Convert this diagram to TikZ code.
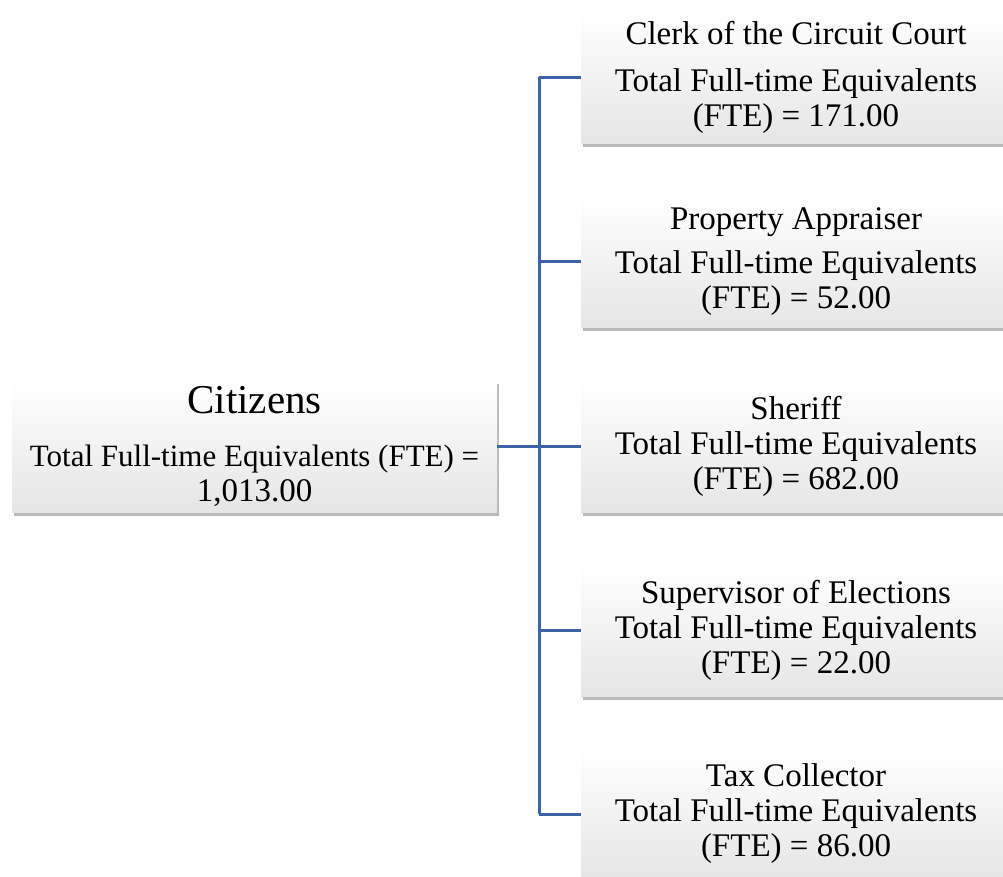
\documentclass[tikz,border=0pt]{standalone}
\usepackage{fontspec}
\setmainfont{Liberation Serif}
\usetikzlibrary{shadows}
\definecolor{linkblue}{RGB}{60,98,170}
\begin{document}
\begin{tikzpicture}[x=1pt,y=1pt,
  box/.style={top color=white,middle color=gray!3,bottom color=gray!20,align=center,inner sep=0pt,
    drop shadow={shadow xshift=1.5pt,shadow yshift=-3.5pt,opacity=0.55},
    font=\fontsize{33}{35}\selectfont},
  dept/.style={box,minimum width=430pt,minimum height=132pt},
  link/.style={draw=linkblue,line width=3pt}]
  \useasboundingbox (0,0) rectangle (1003,-877);
  \clip (0,0) rectangle (1003,-877);
  \coordinate (bus) at (539,0);
  \node[box,minimum width=485pt,minimum height=132pt] (cit) at (254.5,-446)
    {{\fontsize{41}{41}\selectfont Citizens}\\[18pt]{\fontsize{31}{35}\selectfont Total Full-time Equivalents (FTE) =}\\1,013.00};
  \foreach \n/\y/\t/\g/\v in {clerk/77.5/Clerk of the Circuit Court/12/171.00,
      prop/261.5/Property Appraiser/9/52.00, sher/446/Sheriff/0/682.00,
      sup/630/Supervisor of Elections/0/22.00, tax/814/Tax Collector/0/86.00} {
    \node[dept] (\n) at (796,-\y) {\t\\[\g pt]Total Full-time Equivalents\\(FTE) = \v};
    \draw[link] (\n.west) -- (\n.west -| bus);
  }
  \draw[link] (clerk.west -| bus) -- (tax.west -| bus);
  \draw[link] (cit.east) -- (sher.west);
\end{tikzpicture}
\end{document}
